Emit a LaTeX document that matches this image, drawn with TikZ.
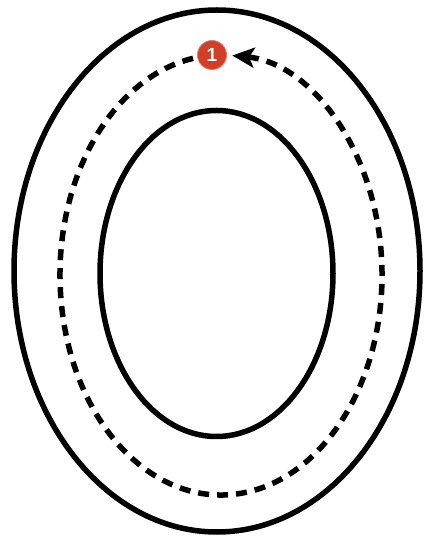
\documentclass[tikz,border=0pt]{standalone}
\usepackage{fontspec}
\newfontfamily\badgefont{Liberation Sans}
\usetikzlibrary{arrows.meta}
\definecolor{badgered}{HTML}{D23F26}
\tikzset{
  ring/.style={line width=5.5pt, draw=black},
  pathline/.style={line width=5.5pt, draw=black, dash pattern=on 11pt off 8pt},
  badge/.style={circle, fill=badgered, draw=badgered!70!white, line width=0.8pt, minimum size=29pt, inner sep=0pt, text=white, font=\badgefont\bfseries\fontsize{19}{19}\selectfont}
}
\begin{document}
\begin{tikzpicture}[x=1pt,y=1pt]
\useasboundingbox (0,0) rectangle (424,538);
\fill[white] (0,0) rectangle (424,538);
\coordinate (oc) at (217,267);
\coordinate (ic) at (216.5,264.5);
\coordinate (dc) at (221,263);
\draw[ring] (oc) ellipse [x radius=203, y radius=261];
\draw[ring] (ic) ellipse [x radius=116.5, y radius=163];
\node[badge] (one) at (212,483) {1};
\coordinate (dstart) at ([shift={(100:161 and 220)}]dc);
\draw[pathline, -{Stealth[length=22pt,width=20pt,inset=5pt]}] (dstart) arc [start angle=100, end angle=446, x radius=161, y radius=220];
\end{tikzpicture}
\end{document}
